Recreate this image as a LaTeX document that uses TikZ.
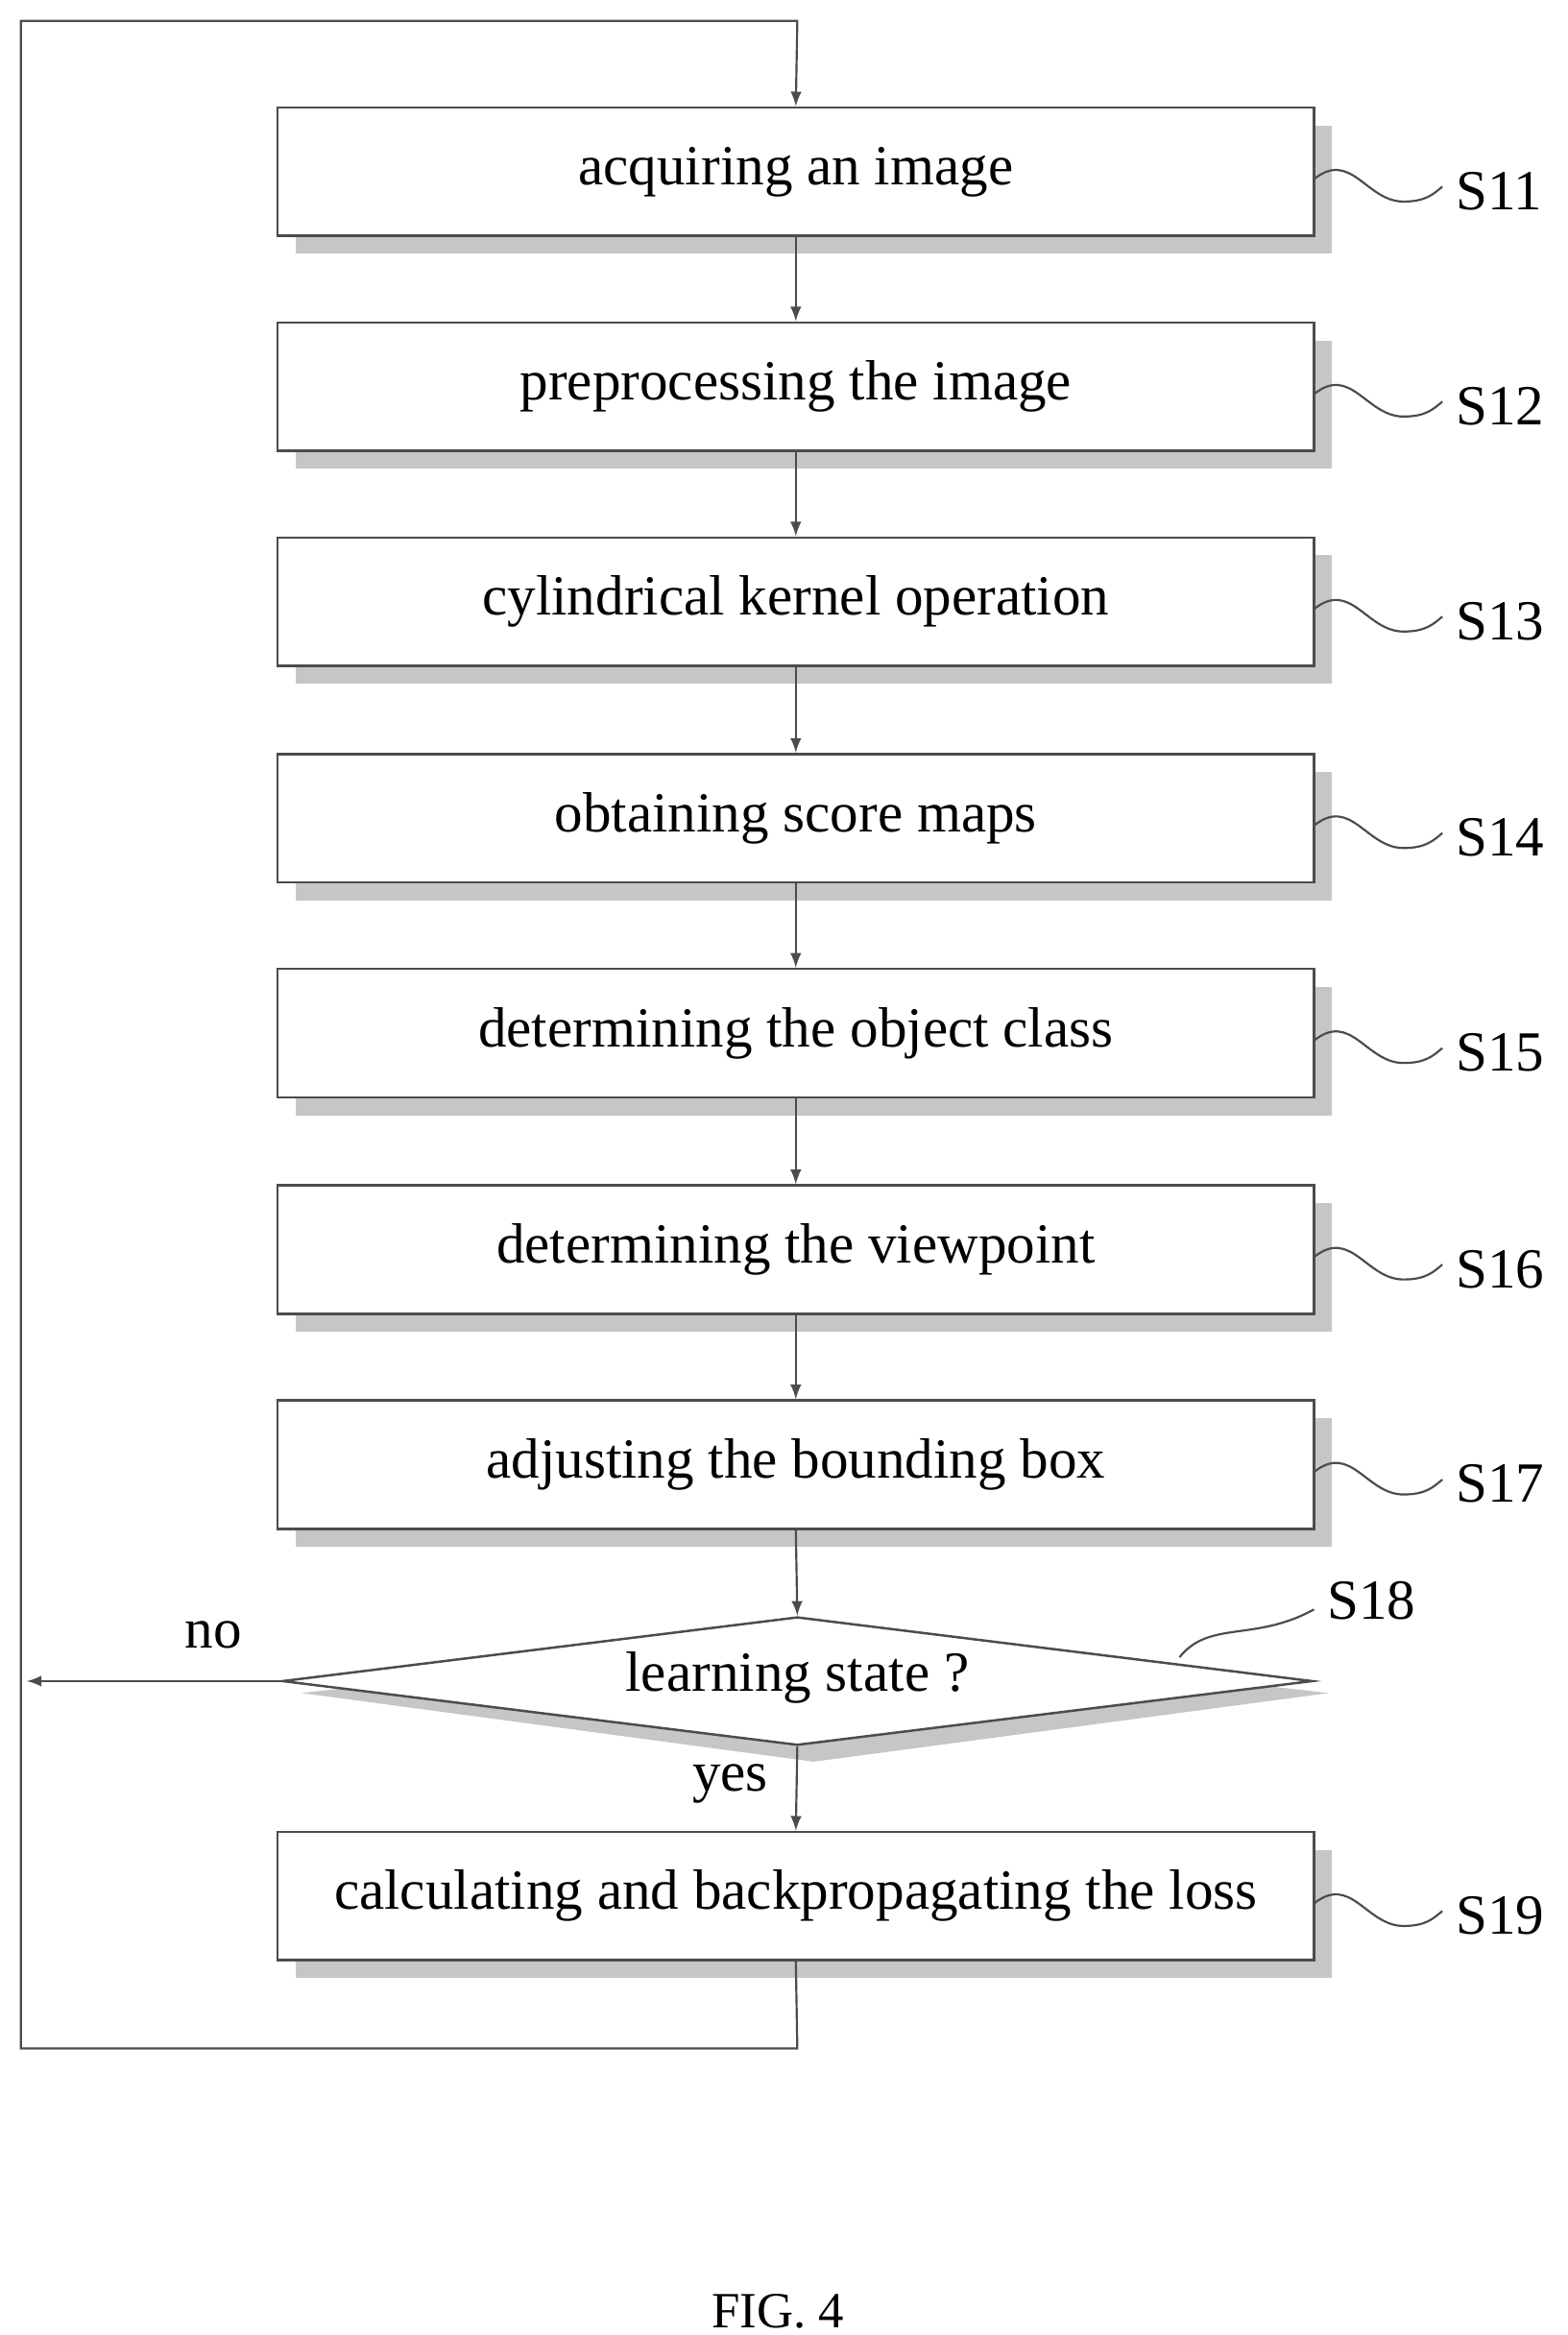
\documentclass[tikz,border=0pt]{standalone}
\usepackage{fontspec}
\usetikzlibrary{shapes.geometric}
\setmainfont{Liberation Serif}
\begin{document}
\begin{tikzpicture}[x=0.5pt,y=-0.5pt,
  box/.style={draw=black!70,line width=0.8pt,fill=white,minimum width=347pt,minimum height=43pt,font=\fontsize{19}{22}\selectfont},
  lab/.style={font=\fontsize{19}{22}\selectfont,anchor=west},
  arr/.style={-latex,line width=0.7pt,black!70},
  sq/.style={line width=0.7pt,black!70}]
\useasboundingbox (0,0) rectangle (1050,1564);
\foreach \n/\y/\t in {11/115/acquiring an image,12/259/preprocessing the image,13/403/cylindrical kernel operation,14/548/obtaining score maps,15/692/determining the object class,16/837/determining the viewpoint,17/981/adjusting the bounding box,19/1270/calculating and backpropagating the loss}{
  \fill[gray!45] (198,\y-31) rectangle (892,\y+55);
  \node[box] (b\n) at (533,\y) {\t};
  \draw[sq] (880,\y+5) .. controls (905,\y-15) and (915,\y+20) .. (940,\y+20) .. controls (955,\y+20) and (960,\y+15) .. (966,\y+10);
  \node[lab] (l\n) at (968,\y+13) {S\n};
}
\fill[gray!45] (202,1134) -- (545,1095) -- (890,1134) -- (545,1180) -- cycle;
\node[draw=black!70,line width=0.8pt,fill=white,diamond,aspect=8.1,minimum width=345pt,minimum height=43pt,inner sep=0pt] (d) at (534,1126) {};
\node[font=\fontsize{19}{22}\selectfont] at (534,1124) {learning state ?};
\draw[sq] (790,1110) .. controls (810,1085) and (840,1100) .. (880,1078);
\node[lab] (l18) at (882,1072) {S18};
\foreach \a/\b in {11/12,12/13,13/14,14/15,15/16,16/17}{\draw[arr] (b\a.south) -- (b\b.north);}
\draw[arr] (b17.south) -- (d.north);
\draw[arr] (d.south) -- (b19.north);
\node[font=\fontsize{19}{22}\selectfont] at (489,1195) {yes};
\coordinate (nl) at (18,1126);
\draw[arr] (d.west) -- (nl);
\node[font=\fontsize{19}{22}\selectfont] at (143,1095) {no};
\coordinate (c1) at (534,1372);
\coordinate (c2) at (14,1372);
\coordinate (c3) at (14,14);
\coordinate (c4) at (534,14);
\draw[arr] (b19.south) -- (c1) -- (c2) -- (c3) -- (c4) -- (b11.north);
\node[font=\fontsize{17}{20}\selectfont] (fig) at (521,1548) {FIG. 4};
\end{tikzpicture}
\end{document}
